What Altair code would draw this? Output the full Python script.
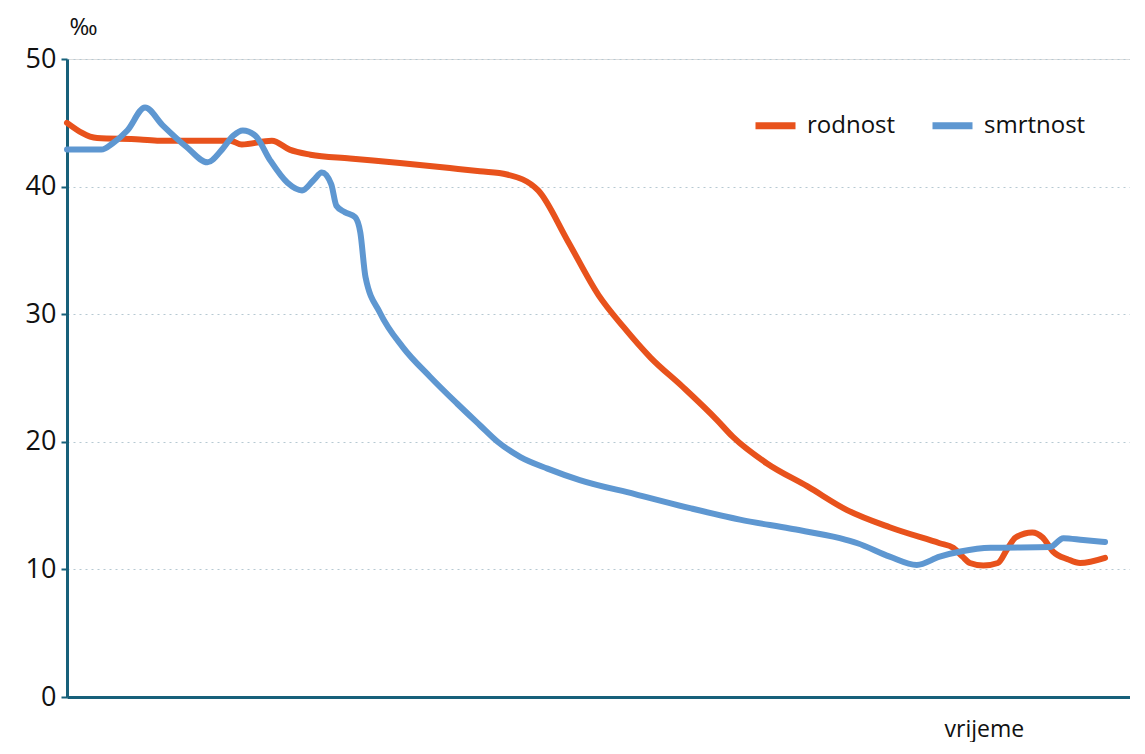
import altair as alt
import pandas as pd

# time position (arbitrary units, no labels on axis) and rates in per mille
rod_t = [0, 2.9, 7.0, 8.9, 15.7, 16.8, 19.7, 21.4, 23.4, 27.2, 32.0, 36.8, 39.7, 42.3,
         45.3, 48.1, 51.1, 53.5, 56.1, 59.2, 62.5, 64.0, 67.3, 71.2, 75.0, 79.1, 83.9,
         85.2, 86.1, 86.8, 88.1, 89.5, 90.4, 91.2, 92.8, 93.8, 94.8, 96.2, 97.4, 99.8]
rod_v = [45.0, 43.8, 43.7, 43.6, 43.6, 43.3, 43.6, 42.9, 42.5, 42.2, 41.85, 41.45, 41.2, 40.95,
         39.7, 35.8, 31.5, 29.0, 26.6, 24.3, 21.7, 20.4, 18.3, 16.5, 14.65, 13.3, 12.05,
         11.7, 11.0, 10.5, 10.3, 10.5, 11.6, 12.5, 12.9, 12.5, 11.4, 10.8, 10.5, 10.9]

smr_t = [0, 3.3, 4.4, 5.8, 7.5, 9.2, 11.5, 13.5, 14.9, 16.0, 16.9, 18.1, 19.5, 21.2, 22.6,
         23.7, 24.5, 25.4, 25.9, 26.7, 27.7, 28.2, 28.7, 30.1, 32.3, 34.9, 37.5, 39.7, 41.4,
         43.6, 46.2, 49.3, 54.6, 59.9, 64.7, 69.5, 74.3, 76.0, 79.1, 81.7, 83.9, 85.9, 88.8,
         94.5, 95.8, 97.7, 99.8]
smr_v = [42.9, 42.9, 43.4, 44.4, 46.2, 44.8, 43.1, 41.9, 42.9, 44.0, 44.4, 44.0, 42.1, 40.3, 39.7,
         40.5, 41.1, 40.2, 38.5, 38.0, 37.6, 36.4, 32.9, 30.1, 27.4, 25.1, 23.0, 21.3, 20.0,
         18.8, 17.9, 17.0, 15.9, 14.8, 13.9, 13.2, 12.45, 12.05, 11.0, 10.35, 11.0, 11.4, 11.7,
         11.75, 12.45, 12.3, 12.15]

series = ["rodnost", "smrtnost"]
colors = ["#e8521c", "#5e97d1"]

df = pd.concat([
    pd.DataFrame({"t": rod_t, "v": rod_v, "s": series[0]}),
    pd.DataFrame({"t": smr_t, "v": smr_v, "s": series[1]}),
])

FONT = "Open Sans"
AXIS_COLOR = "#17607a"

chart = alt.Chart(df).mark_line(
    strokeWidth=6, strokeCap="round", strokeJoin="round", interpolate="monotone"
).encode(
    x=alt.X("t:Q", scale=alt.Scale(domain=[0, 102.2], nice=False, zero=False),
            axis=alt.Axis(title="vrijeme", labels=False, ticks=False, grid=False,
                          domainColor=AXIS_COLOR, domainWidth=3,
                          titleFont=FONT, titleFontSize=23, titleFontWeight="normal",
                          titleColor="#111", titleX=877, titleY=32,
                          titleAlign="left", titleBaseline="middle")),
    y=alt.Y("v:Q", scale=alt.Scale(domain=[0, 50], nice=False),
            axis=alt.Axis(title="‰", values=[0, 10, 20, 30, 40, 50],
                          domainColor=AXIS_COLOR, domainWidth=3,
                          tickColor=AXIS_COLOR, tickWidth=2, tickSize=6,
                          labelFont=FONT, labelFontSize=27, labelColor="#111", labelPadding=5,
                          grid=True, gridColor="#b6c9d2", gridDash=[2, 4], gridWidth=1,
                          titleFont=FONT, titleFontSize=24, titleFontWeight="normal",
                          titleColor="#111", titleAngle=0, titleX=2, titleY=-32,
                          titleAlign="left", titleBaseline="middle")),
    color=alt.Color("s:N", scale=alt.Scale(domain=series, range=colors),
                    legend=alt.Legend(title=None, orient="none", legendX=685, legendY=43,
                                      direction="horizontal", symbolType="stroke",
                                      symbolSize=1600, symbolStrokeWidth=7,
                                      labelFont=FONT, labelFontSize=24, labelColor="#111",
                                      labelOffset=8, columnPadding=22)),
    detail="s:N",
).properties(
    width=1063, height=638,
    padding={"left": 59, "top": 51, "right": 0, "bottom": 45},
    autosize=alt.AutoSizeParams(type="none"),
).configure_view(stroke=None).configure(background="white")

chart.save("out.html", embed_options={"renderer": "svg", "actions": False})
